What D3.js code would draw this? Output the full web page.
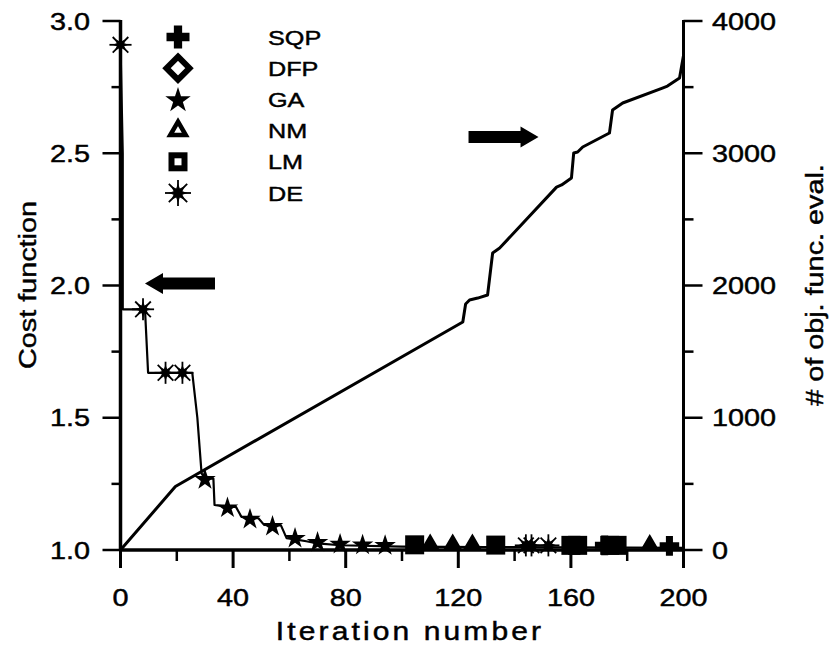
<!DOCTYPE html>
<html><head><meta charset="utf-8">
<script src="https://cdn.jsdelivr.net/npm/d3@7"></script>
<style>
html,body{margin:0;padding:0;background:#fff;}
text{font-family:"Liberation Sans",Arial,Helvetica,sans-serif;fill:#000;stroke:#000;stroke-width:0.45px;}
</style></head>
<body>
<svg id="chart" width="831" height="645"></svg>
<script>
// ---- data ----
const xTicks = [0, 40, 80, 120, 160, 200];
const xMinorTicks = [20, 60, 100, 140, 180];
const costTicks = [1.0, 1.5, 2.0, 2.5, 3.0];
const costMinorTicks = [1.25, 1.75, 2.25, 2.75];
const evalTicks = [0, 1000, 2000, 3000, 4000];
const evalMinorTicks = [500, 1500, 2500, 3500];

const legendNames = ["SQP", "DFP", "GA", "NM", "LM", "DE"];

// cost function history (iteration, cost)
const costIter = [0, 0.8, 0.8, 8.7, 9.8, 25.5, 27.3, 28.8, 30, 33, 33.4, 38, 41, 43, 46, 49, 51, 54, 57, 59, 62, 66, 70, 78, 100, 130, 160, 200];
const costValue = [2.91, 2.5, 1.91, 1.91, 1.67, 1.67, 1.5, 1.29, 1.27, 1.27, 1.17, 1.163, 1.163, 1.125, 1.12, 1.12, 1.095, 1.093, 1.093, 1.045, 1.04, 1.033, 1.025, 1.018, 1.013, 1.011, 1.01, 1.008];

// number of objective function evaluations (iteration, evals)
const evalIter = [0, 19.5, 21.5, 121.6, 122.6, 124, 126.9, 130.4, 132.2, 134.7, 154.9, 156.7, 160.2, 161, 162.4, 164.2, 173.7, 174.8, 178.4, 192.5, 194.3, 198.6, 200];
const evalValue = [0, 480, 505, 1724, 1860, 1890, 1905, 1928, 2246, 2283, 2744, 2760, 2813, 3002, 3009, 3047, 3153, 3327, 3380, 3493, 3508, 3569, 3740];

// markers per method (iteration, cost)
const sqpIter = [172, 195];            const sqpCost = [1.01, 1.008];
const dfpIter = [];                    const dfpCost = [];
const gaIter = [30, 38, 46, 54, 62, 70, 78, 86, 94];
const gaCost = [1.27, 1.163, 1.12, 1.093, 1.04, 1.025, 1.018, 1.015, 1.013];
const nmIter = [110, 118, 125, 188];   const nmCost = [1.012, 1.012, 1.012, 1.01];
const lmIter = [104.5, 133.3, 160, 162.4, 173.8, 176.4];
const lmCost = [1.012, 1.011, 1.01, 1.01, 1.01, 1.01];
const deIter = [0, 8, 16, 22, 144, 146, 152];
const deCost = [2.91, 1.91, 1.67, 1.67, 1.01, 1.01, 1.01];

// annotation arrows: tip position (iteration, value on its axis)
const arrowLeftTip = [8.7, 2.0];     // points to cost axis
const arrowRightTip = [148.5, 3123]; // points to evaluation axis

// ---- drawing ----
const svg = d3.select("#chart");
const x = d3.scaleLinear().domain([0, 200]).range([120.5, 683.5]);
const yL = d3.scaleLinear().domain([1, 3]).range([550, 21]);
const yR = d3.scaleLinear().domain([0, 4000]).range([550, 21]);
const SX = 1.2;

function label(g, px, py, txt, anchor, size, rot, spacing) {
  const t = g.append("g").attr("transform", `translate(${px},${py})` + (rot ? ` rotate(${rot})` : ""));
  const el = t.append("text").attr("transform", `scale(${SX},1)`).attr("text-anchor", anchor)
    .style("font-size", size + "px").text(txt);
  if (spacing) el.style("letter-spacing", spacing + "px");
}

const ax = svg.append("g");
const axStroke = "#000";
// axis lines
ax.append("line").attr("x1", x(0)).attr("x2", x(200)).attr("y1", yL(1)).attr("y2", yL(1)).attr("stroke", axStroke).attr("stroke-width", 3.5);
ax.append("line").attr("x1", x(0)).attr("x2", x(0)).attr("y1", yL(3) - 1).attr("y2", yL(1)).attr("stroke", axStroke).attr("stroke-width", 3.5);
ax.append("line").attr("x1", x(200)).attr("x2", x(200)).attr("y1", yR(4000) - 1).attr("y2", yR(0)).attr("stroke", axStroke).attr("stroke-width", 3);

// x ticks
xTicks.forEach(v => {
  ax.append("line").attr("x1", x(v)).attr("x2", x(v)).attr("y1", yL(1)).attr("y2", yL(1) + 18).attr("stroke", axStroke).attr("stroke-width", 3);
  label(ax, x(v), 606, String(v), "middle", 24);
});
xMinorTicks.forEach(v => {
  ax.append("line").attr("x1", x(v)).attr("x2", x(v)).attr("y1", yL(1)).attr("y2", yL(1) + 11).attr("stroke", axStroke).attr("stroke-width", 2.5);
});
// left ticks
costTicks.forEach(v => {
  ax.append("line").attr("x1", x(0) - 18).attr("x2", x(0)).attr("y1", yL(v)).attr("y2", yL(v)).attr("stroke", axStroke).attr("stroke-width", 2.5);
  label(ax, 90, yL(v) + 8.5, v.toFixed(1), "end", 24);
});
costMinorTicks.forEach(v => {
  ax.append("line").attr("x1", x(0) - 9).attr("x2", x(0)).attr("y1", yL(v)).attr("y2", yL(v)).attr("stroke", axStroke).attr("stroke-width", 2.5);
});
// right ticks
evalTicks.forEach(v => {
  ax.append("line").attr("x1", x(200)).attr("x2", x(200) + 19).attr("y1", yR(v)).attr("y2", yR(v)).attr("stroke", axStroke).attr("stroke-width", 2.5);
  label(ax, 712, yR(v) + 8.5, String(v), "start", 24);
});
evalMinorTicks.forEach(v => {
  ax.append("line").attr("x1", x(200)).attr("x2", x(200) + 10).attr("y1", yR(v)).attr("y2", yR(v)).attr("stroke", axStroke).attr("stroke-width", 2.5);
});

// axis titles
label(svg, 410, 640, "Iteration number", "middle", 25, 0, 2.6);
label(svg, 36, 285, "Cost function", "middle", 24, -90);
label(svg, 823, 285, "# of obj. func. eval.", "middle", 24, -90);

// lines
const evalData = evalIter.map((d, i) => [d, evalValue[i]]);
const costData = costIter.map((d, i) => [d, costValue[i]]);
svg.append("path").datum(evalData)
  .attr("d", d3.line().x(d => x(d[0])).y(d => yR(d[1])))
  .attr("fill", "none").attr("stroke", "#000").attr("stroke-width", 3).attr("stroke-linejoin", "round");
svg.append("path").datum(costData)
  .attr("d", d3.line().x(d => x(d[0])).y(d => yL(d[1])))
  .attr("fill", "none").attr("stroke", "#000").attr("stroke-width", 2.2).attr("stroke-linejoin", "round");

// marker shapes
function plusPath(s) { const a = s / 2, w = s * 0.18; return `M${-w},${-a}H${w}V${-w}H${a}V${w}H${w}V${a}H${-w}V${w}H${-a}V${-w}H${-w}Z`; }
function drawMarker(g, type, cx, cy, k, solid) {
  const m = g.append("g").attr("transform", `translate(${cx},${cy})`);
  const inner = solid ? "#000" : "#fff";
  if (type === "SQP") {
    m.append("path").attr("d", plusPath(23 * k)).attr("fill", "#000");
  } else if (type === "DFP") {
    const r = 11.5 * k;
    m.append("path").attr("d", `M0,${-r}L${r},0L0,${r}L${-r},0Z`).attr("fill", inner).attr("stroke", "#000").attr("stroke-width", 6 * k);
  } else if (type === "GA") {
    m.append("path").attr("d", d3.symbol(d3.symbolStar, 200 * k * k)()).attr("fill", "#000").attr("transform", "translate(0,1)");
  } else if (type === "NM") {
    const s = 15.5 * k, h = s * Math.sqrt(3) / 2;
    m.append("path").attr("d", `M0,${-h * 2 / 3}L${s / 2},${h / 3}L${-s / 2},${h / 3}Z`).attr("fill", inner).attr("stroke", "#000").attr("stroke-width", 4.5 * k).attr("stroke-linejoin", "miter");
  } else if (type === "LM") {
    const s = 13 * k;
    m.append("rect").attr("x", -s / 2).attr("y", -s / 2).attr("width", s).attr("height", s).attr("fill", inner).attr("stroke", "#000").attr("stroke-width", 6 * k);
  } else if (type === "DE") {
    const r = 13 * k;
    for (let i = 0; i < 8; i++) {
      const a = i * Math.PI / 4;
      m.append("line").attr("x1", 0).attr("y1", 0).attr("x2", r * Math.cos(a)).attr("y2", r * Math.sin(a)).attr("stroke", "#000").attr("stroke-width", 1.8);
    }
    const pts = [];
    for (let i = 0; i < 16; i++) {
      const a = i * Math.PI / 8 - Math.PI / 2, rr = i % 2 === 0 ? 9.5 * k : 4.8 * k;
      pts.push([rr * Math.cos(a), rr * Math.sin(a)]);
    }
    m.append("path").attr("d", d3.line()(pts) + "Z").attr("fill", "#000");
  }
}

const markerSets = [
  ["GA", gaIter, gaCost, 0.85],
  ["NM", nmIter, nmCost, 0.85],
  ["LM", lmIter, lmCost, 1.0],
  ["DE", deIter, deCost, 0.85],
  ["DFP", dfpIter, dfpCost, 0.85],
  ["SQP", sqpIter, sqpCost, 0.85]
];
const mk = svg.append("g");
markerSets.forEach(([type, it, cv, k]) => {
  it.forEach((d, i) => drawMarker(mk, type, x(d), yL(cv[i]) - (cv[i] < 1.05 ? 2 : 0), k, true));
});

// legend
const lg = svg.append("g");
legendNames.forEach((n, i) => {
  const cy = 37 + i * 31.2;
  drawMarker(lg, n, 178, cy, 1, false);
  label(lg, 268, cy + 7.5, n, "start", 21);
});

// arrows
function arrow(g, tipX, tipY, dir) {
  const L = 70, head = 18, sh = 6, hh = 10.5;
  const pts = [[0, 0], [head, -hh], [head, -sh], [L, -sh], [L, sh], [head, sh], [head, hh]]
    .map(p => [tipX + dir * p[0], tipY + p[1]]);
  g.append("path").attr("d", d3.line()(pts) + "Z").attr("fill", "#000");
}
arrow(svg, x(arrowLeftTip[0]), yL(arrowLeftTip[1]) - 2, 1);
arrow(svg, x(arrowRightTip[0]), yR(arrowRightTip[1]), -1);
</script>
</body></html>
